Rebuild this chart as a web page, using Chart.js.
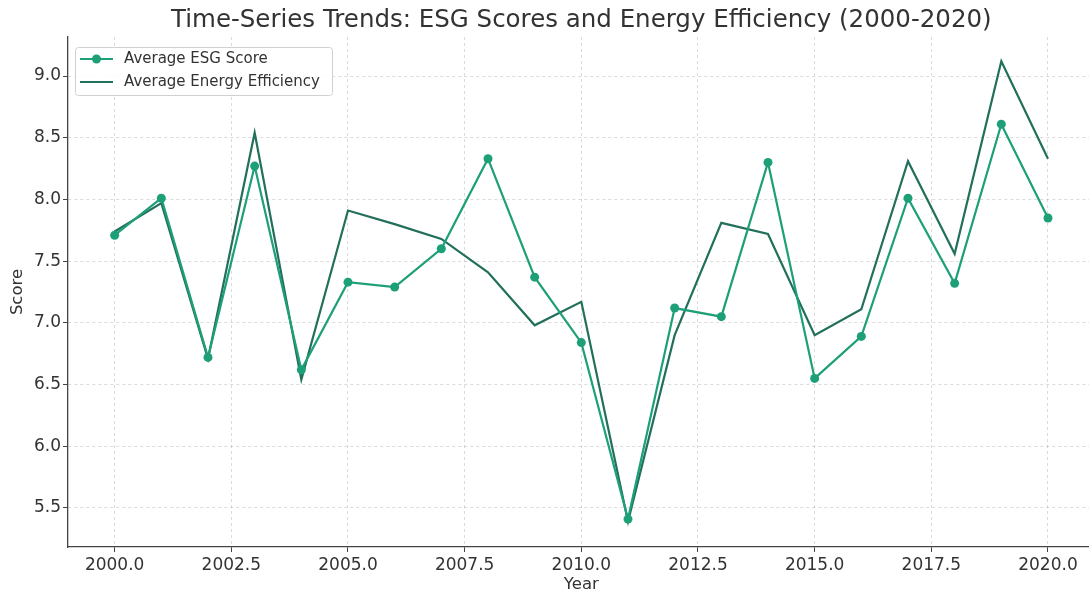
<!DOCTYPE html>
<html>
<head>
<meta charset="utf-8">
<script src="https://cdn.jsdelivr.net/npm/chart.js@4/dist/chart.umd.min.js"></script>
<style>
html,body{margin:0;padding:0;background:#fff;overflow:hidden;}
#wrap{width:1089px;height:593px;overflow:hidden;}
canvas{display:block;}
</style>
</head>
<body>
<div id="wrap"><canvas id="c" width="1100" height="593"></canvas></div>
<script>
const years = [2000,2001,2002,2003,2004,2005,2006,2007,2008,2009,2010,2011,2012,2013,2014,2015,2016,2017,2018,2019,2020];
const esgScore = [7.71,8.01,6.72,8.27,6.62,7.33,7.29,7.60,8.33,7.37,6.84,5.41,7.12,7.05,8.30,6.55,6.89,8.01,7.32,8.61,7.85];
const energyEfficiency = [7.74,7.97,6.71,8.54,6.54,7.91,7.80,7.68,7.41,6.98,7.17,5.39,6.90,7.81,7.72,6.90,7.11,8.31,7.56,9.12,8.33];
const xTickValues = [2000,2002.5,2005,2007.5,2010,2012.5,2015,2017.5,2020];
const yTickValues = [5.5,6.0,6.5,7.0,7.5,8.0,8.5,9.0];
const seriesLabels = ['Average ESG Score','Average Energy Efficiency'];
const titleText = 'Time-Series Trends: ESG Scores and Energy Efficiency (2000-2020)';

const FONT = "'DejaVu Sans', sans-serif";
const esgColor = '#1d9f78';
const eeColor = '#22705b';

const legendPlugin = {
  id: 'innerLegend',
  afterDatasetsDraw(chart) {
    const ctx = chart.ctx;
    const x0 = 75, y0 = 47, w = 257, h = 48;
    ctx.save();
    ctx.fillStyle = 'rgba(255,255,255,0.85)';
    ctx.strokeStyle = '#d0d0d0';
    ctx.lineWidth = 1;
    ctx.beginPath();
    if (ctx.roundRect) ctx.roundRect(x0 + 0.5, y0 + 0.5, w, h, 3); else ctx.rect(x0 + 0.5, y0 + 0.5, w, h);
    ctx.fill();
    ctx.stroke();
    const rows = [59, 82];
    chart.data.datasets.forEach((ds, i) => {
      const yy = rows[i];
      ctx.strokeStyle = ds.borderColor;
      ctx.lineWidth = 2;
      ctx.beginPath();
      ctx.moveTo(80, yy);
      ctx.lineTo(113, yy);
      ctx.stroke();
      if (ds.pointRadius > 0) {
        ctx.fillStyle = ds.borderColor;
        ctx.beginPath();
        ctx.arc(96.5, yy, 4.5, 0, Math.PI * 2);
        ctx.fill();
      }
      ctx.fillStyle = '#333';
      ctx.font = '15px ' + FONT;
      ctx.textBaseline = 'middle';
      ctx.textAlign = 'left';
      ctx.fillText(ds.label, 124, yy);
    });
    ctx.restore();
  }
};

new Chart(document.getElementById('c'), {
  type: 'line',
  data: {
    datasets: [
      {
        label: seriesLabels[0],
        data: years.map((yr, i) => ({x: yr, y: esgScore[i]})),
        borderColor: esgColor,
        backgroundColor: esgColor,
        pointBackgroundColor: esgColor,
        pointBorderColor: esgColor,
        pointRadius: 4.5,
        pointBorderWidth: 0,
        borderWidth: 2.2,
        tension: 0,
        fill: false
      },
      {
        label: seriesLabels[1],
        data: years.map((yr, i) => ({x: yr, y: energyEfficiency[i]})),
        borderColor: eeColor,
        backgroundColor: eeColor,
        pointRadius: 0,
        borderWidth: 2.2,
        tension: 0,
        fill: false
      }
    ]
  },
  options: {
    responsive: false,
    animation: false,
    devicePixelRatio: 1,
    layout: {padding: {left: 0, right: 5.35, top: 0, bottom: 0}},
    plugins: {
      legend: {display: false},
      tooltip: {enabled: false},
      title: {
        display: true,
        fullSize: false,
        text: titleText,
        color: '#333',
        font: {family: FONT, size: 24.5, weight: 'normal', lineHeight: 1.2},
        padding: {top: 6, bottom: 1.6}
      }
    },
    scales: {
      x: {
        type: 'linear',
        min: 1999,
        max: 2021,
        afterBuildTicks(s) { s.ticks = xTickValues.map(v => ({value: v})); },
        afterFit(s) { s.height = 46; },
        ticks: {
          color: '#333',
          font: {family: FONT, size: 17},
          padding: 3,
          maxRotation: 0,
          autoSkip: false,
          callback: v => Number(v).toFixed(1)
        },
        grid: {
          color: 'rgba(0,0,0,0.18)',
          lineWidth: 0.8,
          tickColor: '#444',
          tickLength: 5,
          tickWidth: 1
        },
        border: {display: true, color: '#444', width: 1.3, dash: [3, 3]},
        title: {
          display: true,
          text: 'Year',
          color: '#333',
          font: {family: FONT, size: 16.5, lineHeight: 1.0},
          padding: {top: 0, bottom: 0}
        }
      },
      y: {
        type: 'linear',
        min: 5.184,
        max: 9.316,
        afterBuildTicks(s) { s.ticks = yTickValues.map(v => ({value: v})); },
        afterFit(s) { s.width = 68; },
        ticks: {
          color: '#333',
          font: {family: FONT, size: 17},
          padding: 2,
          autoSkip: false,
          callback: v => Number(v).toFixed(1)
        },
        grid: {
          color: 'rgba(0,0,0,0.18)',
          lineWidth: 0.8,
          tickColor: '#444',
          tickLength: 5,
          tickWidth: 1
        },
        border: {display: true, color: '#444', width: 1.3, dash: [3, 3]},
        title: {
          display: true,
          text: 'Score',
          color: '#333',
          font: {family: FONT, size: 16.5, lineHeight: 1.2},
          padding: {top: 8, bottom: 0}
        }
      }
    }
  },
  plugins: [legendPlugin]
});
</script>
</body>
</html>
